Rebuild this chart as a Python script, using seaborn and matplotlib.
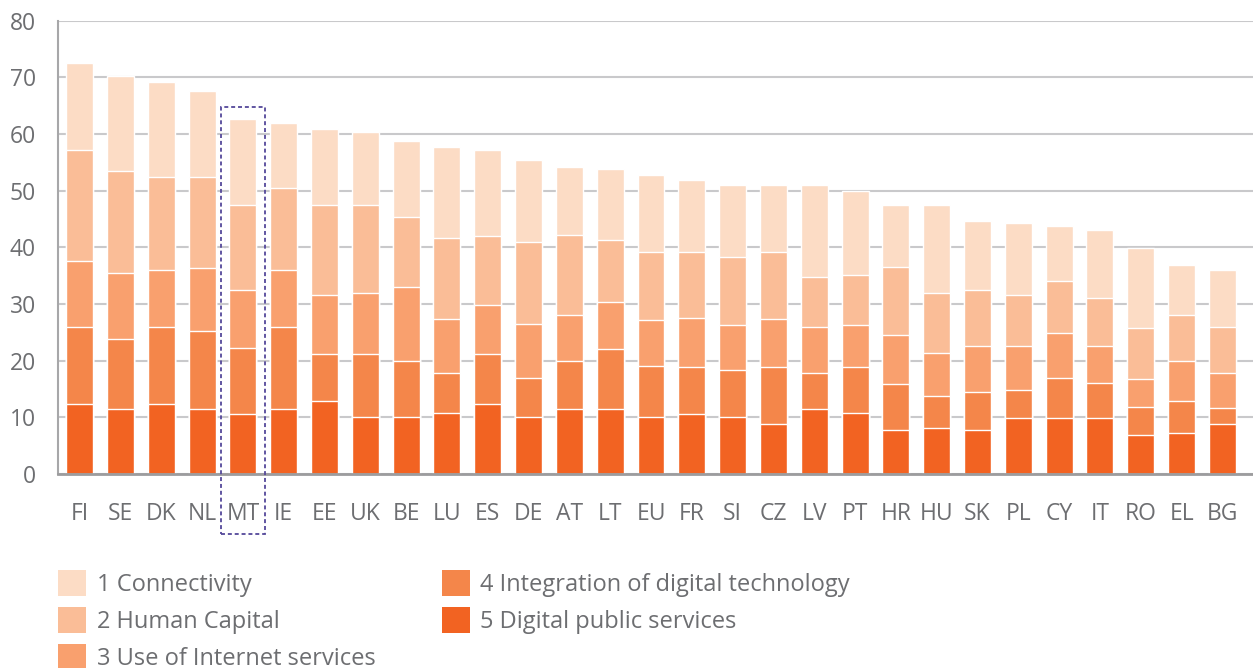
import numpy as np
import seaborn as sns
import matplotlib.pyplot as plt
from matplotlib.patches import Patch, Rectangle

# Country codes, ordered by total DESI score
countries = ['FI', 'SE', 'DK', 'NL', 'MT', 'IE', 'EE', 'UK', 'BE', 'LU',
             'ES', 'DE', 'AT', 'LT', 'EU', 'FR', 'SI', 'CZ', 'LV', 'PT',
             'HR', 'HU', 'SK', 'PL', 'CY', 'IT', 'RO', 'EL', 'BG']

# Dimension scores
public_services = [12.3, 11.5, 12.3, 11.5, 10.5, 11.5, 12.8, 10.0, 10.1, 10.7,
                   12.3, 10.0, 11.5, 11.5, 10.1, 10.5, 10.1, 8.9, 11.5, 10.7,
                   7.8, 8.2, 7.8, 9.8, 9.8, 9.8, 6.8, 7.3, 8.9]
integration = [13.7, 12.4, 13.7, 13.8, 11.7, 14.5, 8.3, 11.1, 9.9, 7.2,
               8.8, 7.0, 8.5, 10.5, 9.0, 8.4, 8.2, 9.9, 6.4, 8.1,
               8.0, 5.5, 6.6, 5.1, 7.2, 6.2, 5.1, 5.5, 2.8]
internet_use = [11.5, 11.6, 9.9, 11.1, 10.2, 9.9, 10.4, 10.9, 12.9, 9.4,
                8.8, 9.5, 8.1, 8.4, 8.0, 8.7, 7.9, 8.6, 8.1, 7.4,
                8.8, 7.7, 8.1, 7.6, 7.9, 6.6, 4.9, 7.2, 6.2]
human_capital = [19.6, 18.0, 16.5, 16.0, 15.1, 14.6, 16.0, 15.5, 12.5, 14.4,
                 12.0, 14.5, 14.1, 10.8, 12.1, 11.6, 12.0, 11.8, 8.8, 8.9,
                 12.0, 10.6, 10.0, 9.0, 9.2, 8.4, 8.9, 8.1, 8.0]
connectivity = [15.4, 16.7, 16.8, 15.2, 15.1, 11.5, 13.4, 12.9, 13.4, 16.0,
                15.2, 14.4, 12.0, 12.6, 13.6, 12.7, 12.8, 11.7, 16.1, 14.9,
                10.9, 15.5, 12.2, 12.8, 9.7, 12.1, 14.2, 8.7, 10.0]

labels = ['1 Connectivity', '2 Human Capital', '3 Use of Internet services',
          '4 Integration of digital technology', '5 Digital public services']
colors = ['#FCDCC5', '#FABD97', '#F9A06E', '#F4864A', '#F26322']
highlight = 'MT'

text_color = '#6d6e71'
fs = 16.5
sns.set_style('white')
plt.rcParams['font.family'] = ['Open Sans', 'DejaVu Sans']
plt.rcParams['font.size'] = fs

fig = plt.figure(figsize=(12.53, 6.68), dpi=100)
ax = fig.add_axes([58 / 1253, 1 - 474 / 668, 1 - 58 / 1253, (474 - 20.5) / 668])

# stacked bars: draw cumulative totals from top layer down
layers = [connectivity, human_capital, internet_use, integration, public_services]
stack = np.array(layers[::-1]).cumsum(axis=0)[::-1]
for heights, c in zip(stack, colors):
    sns.barplot(x=countries, y=heights, order=countries, color=c,
                width=0.66, saturation=1, ax=ax)

ax.set_ylim(0, 80)
ax.set_xlim(-0.53, len(countries) - 0.25)
ax.set_yticks(range(0, 81, 10))
ax.set_axisbelow(True)
ax.yaxis.grid(True, color='#c9c9cb', linewidth=1.5)
ax.xaxis.grid(False)
for s in ['top', 'right']:
    ax.spines[s].set_visible(False)
ax.spines['left'].set_color('#a7a7a9')
ax.spines['left'].set_linewidth(1.5)
ax.spines['bottom'].set_color('#9c9c9e')
ax.spines['bottom'].set_linewidth(2)
ax.tick_params(axis='both', length=0, labelsize=fs, labelcolor=text_color)
ax.tick_params(axis='y', pad=16)
ax.tick_params(axis='x', pad=20)
ax.set_xlabel('')
ax.set_ylabel('')

# dashed box around the highlighted country
i = countries.index(highlight)
top = stack[0][i] + 2.2
ax.add_patch(Rectangle((i - 0.54, -10.6), 1.08, top + 10.6, fill=False,
                       edgecolor='#54489a', linestyle=(0, (2.2, 1.6)),
                       linewidth=1.3, clip_on=False, zorder=5))

handles = [Patch(facecolor=c, edgecolor='none') for c in colors]
fig.legend(handles, labels, ncol=2, loc='upper left',
           bbox_to_anchor=(58 / 1253, 1 - 570 / 668), frameon=False,
           fontsize=17, labelcolor=text_color, borderpad=0, borderaxespad=0,
           handlelength=1.19, handleheight=1.29, handletextpad=0.45,
           labelspacing=0.44, columnspacing=2.8)

plt.savefig('out.png', dpi=100)
